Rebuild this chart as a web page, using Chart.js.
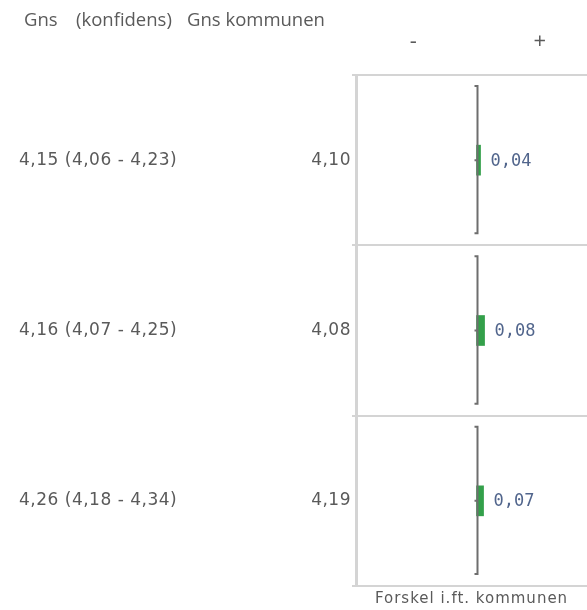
<!DOCTYPE html>
<html>
<head>
<meta charset="utf-8">
<script src="https://cdn.jsdelivr.net/npm/chart.js@4/dist/chart.umd.min.js"></script>
<style>
  body { margin: 0; background: #fff; }
</style>
</head>
<body>
<canvas id="diff-chart" width="587" height="610"></canvas>
<script>
// Data
const questions = ['1', '2', '3'];
const gns = [4.15, 4.16, 4.26];
const gnsLow = [4.06, 4.07, 4.18];
const gnsHigh = [4.23, 4.25, 4.34];
const kommune = [4.10, 4.08, 4.19];
const forskel = [0.04, 0.08, 0.07];

const fmt = v => v.toFixed(2).replace('.', ',');

// Tekst, nul-akse og værdier
const panelPlugin = {
    id: 'panelPlugin',
    beforeDraw(chart) {
        // lidt luft mellem bogstaverne (bruges også af aksetitlen)
        chart.ctx.letterSpacing = '1px';
    },
    afterDraw(chart) {
        const ctx = chart.ctx;
        const x = chart.scales.x;
        const y = chart.scales.y;
        const zero = Math.round(x.getPixelForValue(0)) + 0.5;
        const slot = (y.bottom - y.top) / questions.length;

        ctx.save();
        // header
        ctx.letterSpacing = '0px';
        ctx.fillStyle = '#5a5a5a';
        ctx.font = '18.5px "Open Sans"';
        ctx.textBaseline = 'middle';
        ctx.textAlign = 'left';
        ctx.fillText('Gns', 24, 21);
        ctx.fillText('(konfidens)', 76, 21);
        ctx.fillText('Gns kommunen', 187, 21);
        ctx.textAlign = 'center';
        ctx.font = '22px "Open Sans"';
        ctx.fillText('-', x.getPixelForValue(-0.63), 42);
        ctx.fillText('+', x.getPixelForValue(0.63), 42);

        questions.forEach((q, i) => {
            const yc = y.getPixelForValue(i);
            const top = yc - slot / 2 + 11;
            const bottom = yc + slot / 2 - 12;

            // nul-akse
            ctx.strokeStyle = '#6e6e6e';
            ctx.lineWidth = 2;
            ctx.beginPath();
            ctx.moveTo(zero - 3, top);
            ctx.lineTo(zero, top);
            ctx.lineTo(zero, bottom);
            ctx.lineTo(zero - 3, bottom);
            ctx.moveTo(zero - 3, yc);
            ctx.lineTo(zero, yc);
            ctx.stroke();

            // rækketekster
            ctx.letterSpacing = '0.5px';
            ctx.fillStyle = '#5a5a5a';
            ctx.font = '17px "DejaVu Sans"';
            ctx.textAlign = 'left';
            ctx.fillText(fmt(gns[i]) + ' (' + fmt(gnsLow[i]) + ' - ' + fmt(gnsHigh[i]) + ')', 19, yc);
            ctx.textAlign = 'right';
            ctx.fillText(fmt(kommune[i]), 351, yc);

            // forskel
            ctx.letterSpacing = '0px';
            ctx.fillStyle = '#51658c';
            ctx.font = '17px "DejaVu Sans Mono"';
            ctx.textAlign = 'left';
            ctx.fillText(fmt(forskel[i]), x.getPixelForValue(forskel[i]) + 10, yc + 1);
        });
        ctx.restore();
    }
};

const ctx = document.getElementById('diff-chart').getContext('2d');
new Chart(ctx, {
    type: 'bar',
    data: {
        labels: questions,
        datasets: [{
            data: forskel,
            backgroundColor: '#33a04a',
            barThickness: 30,
        }]
    },
    options: {
        indexAxis: 'y',
        responsive: false,
        animation: false,
        layout: {
            padding: { top: 75, left: 352, right: 0, bottom: 0 }
        },
        scales: {
            x: {
                min: -1.2,
                max: 1.1,
                grid: { display: false, drawTicks: false },
                border: { display: false },
                ticks: { display: false },
                title: {
                    display: true,
                    text: 'Forskel i.ft. kommunen',
                    color: '#5a5a5a',
                    font: { family: 'DejaVu Sans', size: 15 },
                    padding: { top: 4, bottom: 2 }
                }
            },
            y: {
                offset: true,
                grid: {
                    offset: true,
                    color: '#d4d4d4',
                    lineWidth: 2,
                    tickLength: 4,
                },
                border: { color: '#d4d4d4', width: 3 },
                ticks: { display: false }
            }
        },
        plugins: {
            legend: { display: false },
            tooltip: { enabled: false }
        }
    },
    plugins: [panelPlugin]
});
</script>
</body>
</html>
